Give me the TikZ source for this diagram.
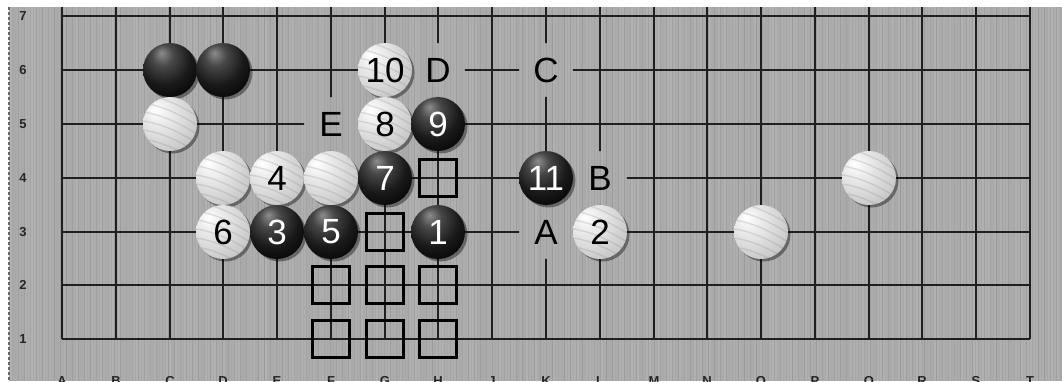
\documentclass[tikz,border=0pt]{standalone}
\usepackage{fontspec}
\setmainfont{Liberation Sans}
\usetikzlibrary{calc}
\definecolor{board}{gray}{0.66}
\pgfdeclareradialshading{bstone}{\pgfpoint{-8bp}{16bp}}{color(0bp)=(black!45); color(10bp)=(black!72); color(24bp)=(black!90); color(40bp)=(black); color(70bp)=(black)}
\pgfdeclareradialshading{wstone}{\pgfpoint{-14bp}{14bp}}{color(0bp)=(white); color(12bp)=(black!8); color(35bp)=(black!22); color(50bp)=(black!42); color(70bp)=(black!52)}
\tikzset{
  grid/.style={line width=2pt, draw=black!88},
  bnum/.style={text=white, font=\fontsize{35}{35}\selectfont, inner sep=0pt},
  wnum/.style={text=black, font=\fontsize{35}{35}\selectfont, inner sep=0pt},
  ptlabel/.style={inner sep=0pt, text=black, font=\fontsize{35}{35}\selectfont},
  sqmark/.style={draw=black, line width=2.8pt, minimum width=37pt, minimum height=37pt, inner sep=0pt},
  coordlbl/.style={text=black!85, font=\fontsize{13}{13}\bfseries\selectfont, inner sep=0pt},
  wstripe/.style={draw=black!50, opacity=.22, line width=1.4pt},
  shadow/.style={fill=black, opacity=.4},
}
\newcommand\stoneB[2]{%
  \fill[shadow] ([shift={(2.5,2.5)}]#1) circle (27);
  \shade[shading=bstone] (#1) circle (27);
  \node[bnum] (s#1) at (#1) {#2};}
\newcommand\stoneW[2]{%
  \fill[shadow] ([shift={(2.5,2.5)}]#1) circle (27);
  \shade[shading=wstone] (#1) circle (27);
  \begin{scope}
    \clip (#1) circle (27);
    \foreach \k in {-40,-31,...,36}
      \draw[wstripe] ([shift={(-35,\k)}]#1) .. controls ([shift={(-10,{\k+2})}]#1) and ([shift={(10,{\k+12})}]#1) .. ([shift={(35,{\k+28})}]#1);
  \end{scope}
  \node[wnum] (s#1) at (#1) {#2};}
\begin{document}
\begin{tikzpicture}[x=1pt,y=-1pt]
\useasboundingbox (0,0) rectangle (1062,381);
\clip (0,0) rectangle (1062,381);
\fill[white] (0,0) rectangle (1062,381);
\fill[board] (9,7) rectangle (1062,381);
% wood stripes
\pgfmathsetseed{7}
\foreach \i in {11,14,...,1060} {
  \pgfmathsetmacro\op{0.02+0.10*rnd}
  \draw[white, opacity=\op, line width=1.1pt] (\i,7) -- (\i,381);
}
\foreach \i in {12.5,18.5,...,1060} {
  \pgfmathsetmacro\op{0.02+0.07*rnd}
  \draw[black, opacity=\op, line width=1pt] (\i,7) -- (\i,381);
}
\draw[black!60, line width=1.6pt, dash pattern=on 3pt off 2pt] (9,7) -- (9,381);
% grid points
\foreach \c [count=\i from 0] in {A,B,C,D,E,F,G,H,J,K,L,M,N,O,P,Q,R,S,T}
  \foreach \r in {1,...,7}
    \coordinate (\c\r) at ({round(62+53.78*\i)},{round(339.3-53.9*(\r-1))});
\coordinate (top) at (0,7);
\coordinate (lblrow) at (0,385);
% grid lines, with gaps round the letters
\begin{scope}[even odd rule]
  \clip (0,0) rectangle (1062,381)
    (K3) circle (27) (L4) circle (27) (K6) circle (27) (H6) circle (27) (F5) circle (27);
  \foreach \r in {1,...,7} \draw[grid] (A\r) -- (T\r);
  \foreach \c in {A,B,C,D,E,F,G,H,J,K,L,M,N,O,P,Q,R,S,T} \draw[grid] (\c1) -- (\c1 |- top);
\end{scope}
% letters on empty points
\node[ptlabel] (lA) at (K3) {A};
\node[ptlabel] (lB) at (L4) {B};
\node[ptlabel] (lC) at (K6) {C};
\node[ptlabel] (lD) at (H6) {D};
\node[ptlabel] (lE) at (F5) {E};
% coordinates
\foreach \r in {1,...,7} \node[coordlbl] (row\r) at (A\r -| 23,0) {\r};
\foreach \c in {A,B,C,D,E,F,G,H,J,K,L,M,N,O,P,Q,R,S,T} \node[coordlbl, anchor=base] (col\c) at (\c1 |- lblrow) {\c};
% squares
\foreach \p in {H4,G3,F2,G2,H2,F1,G1,H1} \node[sqmark] (q\p) at (\p) {};
% stones
\stoneB{C6}{}
\stoneB{D6}{}
\stoneW{C5}{}
\stoneW{G6}{10}
\stoneW{G5}{8}
\stoneB{H5}{9}
\stoneW{D4}{}
\stoneW{E4}{4}
\stoneW{F4}{}
\stoneB{G4}{7}
\stoneB{K4}{11}
\stoneW{Q4}{}
\stoneW{D3}{6}
\stoneB{E3}{3}
\stoneB{F3}{5}
\stoneB{H3}{1}
\stoneW{L3}{2}
\stoneW{O3}{}
\end{tikzpicture}
\end{document}
